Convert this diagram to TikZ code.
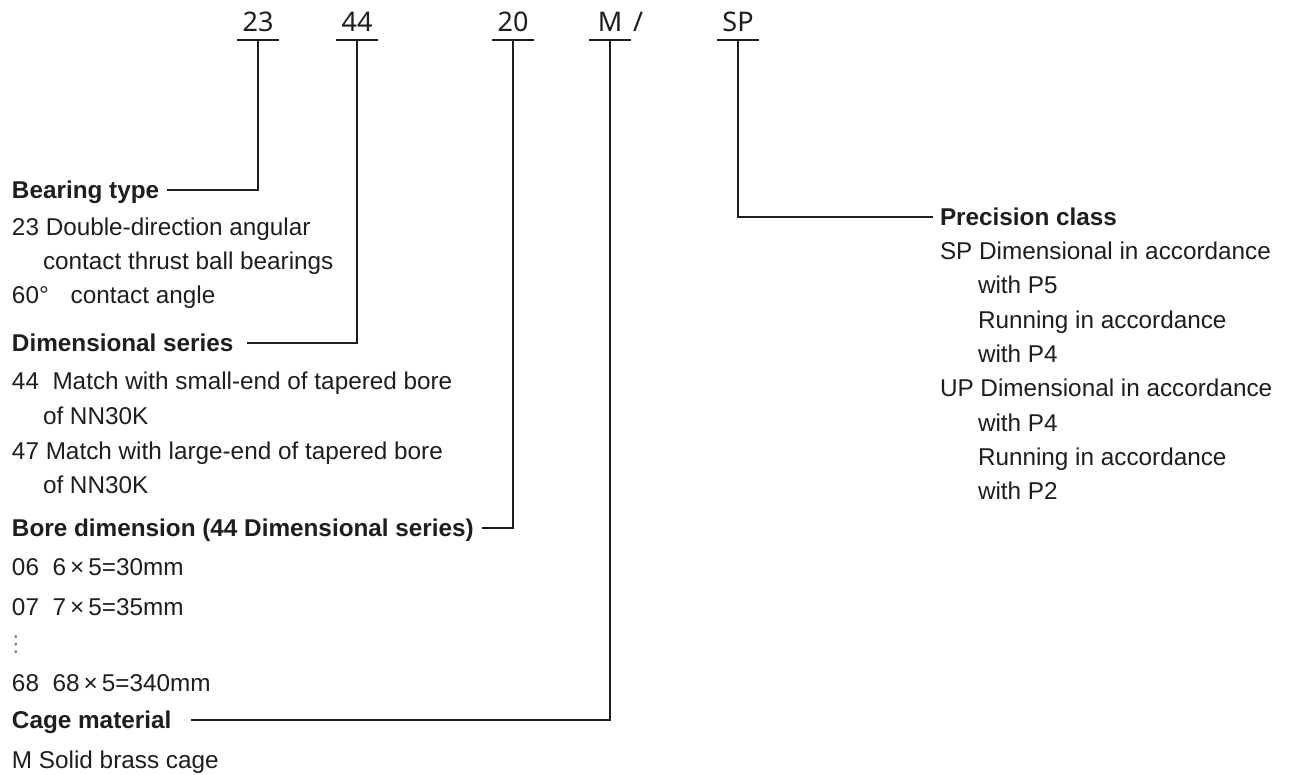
\documentclass[tikz,border=0pt]{standalone}
\usepackage{fontspec}
\setmainfont{Liberation Sans}
\newfontfamily\codefont{Noto Sans}
\newfontfamily\symfont{DejaVu Sans}
\definecolor{ink}{HTML}{1E1E1E}
\begin{document}
\begin{tikzpicture}[x=1pt,y=-1pt,
  every node/.style={inner sep=0pt, outer sep=0pt, text=ink},
  code/.style={font=\codefont\fontsize{27}{30}\selectfont, anchor=base, minimum width=42pt, text depth=8pt},
  head/.style={font=\fontsize{24.3}{28}\selectfont\bfseries, anchor=west, text height=17pt, text depth=0pt},
  body/.style={font=\fontsize{24.3}{28}\selectfont, anchor=base west},
  wire/.style={draw=ink, line width=2.4pt},
]
\fill[white] (0,0) rectangle (1294,775);
\useasboundingbox (0,0) rectangle (1294,775);

% codes
\node[code] (c23) at (258,32) {23};
\node[code] (c44) at (357,32) {44};
\node[code] (c20) at (513,32) {20};
\node[code] (cM)  at (610,32) {M};
\node[code, minimum width=0pt, anchor=base west] (slash) at (633,32) {/};
\node[code] (cSP) at (738,32) {SP};
\foreach \c in {c23,c44,c20,cM,cSP} \draw[wire] (\c.south west) -- (\c.south east);

% left block
\node[head] (bt) at (12,190) {Bearing type};
\node[body] (bt1) at (12,236) {23 Double-direction angular};
\node[body] (bt2) at (43,270) {contact thrust ball bearings};
\node[body] (bt3) at (12,304) {60°\hspace{22pt}contact angle};

\node[head] (ds) at (12,343) {Dimensional series};
\node[body] (ds1) at (12,390) {44\ \ Match with small-end of tapered bore};
\node[body] (ds2) at (43,425) {of NN30K};
\node[body] (ds3) at (12,460) {47 Match with large-end of tapered bore};
\node[body] (ds4) at (43,494) {of NN30K};

\node[head] (bd) at (12,528) {Bore dimension (44 Dimensional series)};
\node[body] (bd1) at (12,576) {06\ \ 6\,×\,5=30mm};
\node[body] (bd2) at (12,615) {07\ \ 7\,×\,5=35mm};
\node[anchor=center, font=\symfont\fontsize{22}{24}\selectfont, text=gray] (bd3) at (16,645) {⋮};
\node[body] (bd4) at (12,691) {68\ \ 68\,×\,5=340mm};

\node[head] (cm) at (12,720) {Cage material};
\node[body] (cm1) at (12,768) {M Solid brass cage};

% right block
\node[head] (pc) at (940,217) {Precision class};
\node[body] (pc1) at (940,260) {SP Dimensional in accordance};
\node[body] (pc2) at (978,294) {with P5};
\node[body] (pc3) at (978,329) {Running in accordance};
\node[body] (pc4) at (978,363) {with P4};
\node[body] (pc5) at (940,397) {UP Dimensional in accordance};
\node[body] (pc6) at (978,432) {with P4};
\node[body] (pc7) at (978,466) {Running in accordance};
\node[body] (pc8) at (978,500) {with P2};

% connectors
\draw[wire] (c23.south) |- ([xshift=8pt]bt.east);
\draw[wire] (c44.south) |- ([xshift=13pt]ds.east);
\draw[wire] (c20.south) |- ([xshift=8pt]bd.east);
\draw[wire] (cM.south) |- ([xshift=20pt]cm.east);
\draw[wire] (cSP.south) |- ([xshift=-7pt]pc.west);
\end{tikzpicture}
\end{document}
